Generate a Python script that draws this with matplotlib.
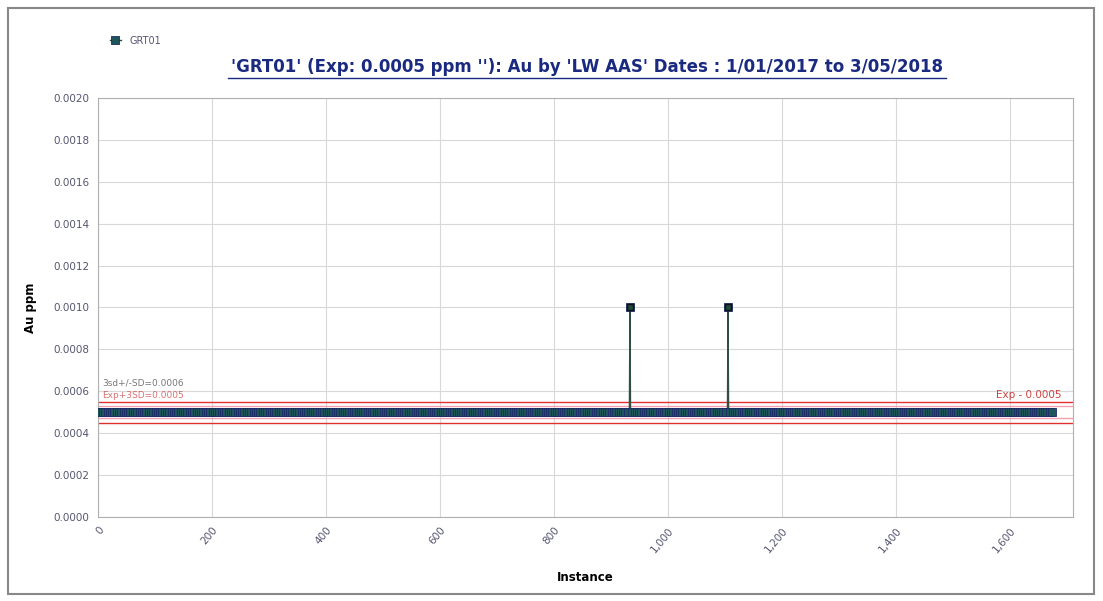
import matplotlib.pyplot as plt
from matplotlib.ticker import FuncFormatter

# --- data ---
n_instances = 1675
expected = 0.0005
spike_instances = [933, 1105]
spike_values = [0.0010, 0.0010]
upper_limit = 0.00055
lower_limit = 0.00045
upper_warn = 0.00053
lower_warn = 0.00047

instances = list(range(1, n_instances + 1))
au_ppm = [expected] * n_instances
for inst, val in zip(spike_instances, spike_values):
    au_ppm[inst - 1] = val

fig = plt.figure(figsize=(11.03, 6.01), dpi=100)
ax = fig.add_axes([0.0888, 0.140, 0.884, 0.697])

# outer frame
fig.patches.append(plt.Rectangle((0.007, 0.012), 0.985, 0.975, transform=fig.transFigure,
                                 fill=False, edgecolor='#888888', linewidth=1.5))

# limit lines
ax.axhline(upper_limit, color='#e03030', linewidth=1.0, zorder=2)
ax.axhline(lower_limit, color='#e03030', linewidth=1.0, zorder=2)
ax.axhline(upper_warn, color='#f0a0b0', linewidth=1.0, zorder=2)
ax.axhline(lower_warn, color='#f0a0b0', linewidth=1.0, zorder=2)

ax.plot(instances, au_ppm, color='#2f4f40', linewidth=1.0, marker='s', markersize=6,
        markerfacecolor='#1d5558', markeredgecolor='#1b2b6b', markeredgewidth=0.6,
        markevery=4, zorder=3, label='GRT01')
ax.plot(spike_instances, spike_values, linestyle='none', marker='s', markersize=5,
        markerfacecolor='#1f4a3c', markeredgecolor='#111111', zorder=4)

ax.text(8, 0.000618, "3sd+/-SD=0.0006", fontsize=6.5, color='#777777', va='bottom', zorder=5)
ax.text(8, 0.000556, "Exp+3SD=0.0005", fontsize=6.5, color='#cc4444', alpha=0.75,
        va='bottom', zorder=5)
ax.text(1690, 0.000556, "Exp - 0.0005", fontsize=7.5, color='#cc4444', ha='right',
        va='bottom', zorder=5)

ax.set_xlim(0, 1710)
ax.set_ylim(0, 0.0020)
ax.set_xticks(range(0, 1601, 200))
ax.set_yticks([i * 0.0002 for i in range(11)])
ax.xaxis.set_major_formatter(FuncFormatter(lambda v, p: f"{int(v):,}"))
ax.yaxis.set_major_formatter(FuncFormatter(lambda v, p: f"{v:.4f}"))
plt.setp(ax.get_xticklabels(), rotation=50, ha='right', rotation_mode='anchor')
ax.tick_params(axis='both', labelsize=7.5, colors='#555570', length=0, pad=6)

ax.grid(True, color='#d8d8d8', linewidth=0.8)
ax.set_axisbelow(True)
for side in ['top', 'right', 'left', 'bottom']:
    ax.spines[side].set_color('#b0b0b0')

ax.set_xlabel("Instance", fontsize=8.5, fontweight='bold', labelpad=12)
ax.set_ylabel("Au ppm", fontsize=8.5, fontweight='bold', labelpad=12)

fig.text(0.532, 0.888, "'GRT01' (Exp: 0.0005 ppm ''): Au by 'LW AAS' Dates : 1/01/2017 to 3/05/2018",
         fontsize=12, fontweight='bold', color='#1a2a80', ha='center', va='center')
fig.add_artist(plt.Line2D([0.207, 0.858], [0.870, 0.870], transform=fig.transFigure,
                          color='#1a2a80', linewidth=1.0))

ax.legend(loc='upper left', bbox_to_anchor=(0.003, 1.17), frameon=False, fontsize=7,
          handlelength=1.2, labelcolor='#555570', markerscale=0.9)

fig.savefig("out.png", dpi=100)
